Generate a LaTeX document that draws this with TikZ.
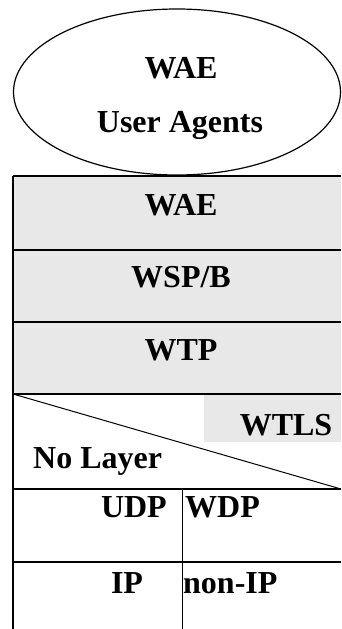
\documentclass[tikz,border=0pt]{standalone}
\usepackage{fontspec}
\setmainfont{Liberation Serif}
\definecolor{layerfill}{RGB}{232,232,232}
\begin{document}
\begin{tikzpicture}[x=1pt,y=-1pt,
  rule/.style={line width=1.3pt,black},
  thin rule/.style={line width=1pt,black},
  layer/.style={fill=layerfill,draw=none,inner sep=0pt,anchor=north west},
  lbl/.style={font=\fontsize{32}{32}\selectfont\bfseries,inner sep=0pt,anchor=base}]
\useasboundingbox (0,0) rectangle (341,629);
\fill[white] (0,0) rectangle (341,629);

% user agent bubble
\coordinate (ua) at (177,92);
\draw[line width=1.2pt] (ua) ellipse [x radius=163.5, y radius=83];
\node[lbl] (uaT) at (181,78) {WAE};
\node[lbl] (uaB) at (180,132) {User Agents};

% shaded protocol layers
\node[layer,minimum width=328pt,minimum height=74pt] (wae) at (13,176) {};
\node[layer,minimum width=328pt,minimum height=72pt] (wsp) at (13,250) {};
\node[layer,minimum width=328pt,minimum height=72pt] (wtp) at (13,322) {};
\node[layer,minimum width=137pt,minimum height=48pt] (wtls) at (204,394) {};

% empty security row and transport/bearer cells
\coordinate (sec nw) at (13,394);
\coordinate (sec se) at (341,489);
\coordinate (udp nw) at (13,489);
\coordinate (mid top) at (182,489);
\coordinate (mid bot) at (182,629);
\coordinate (ip nw) at (13,562);
\coordinate (ip ne) at (341,562);
\coordinate (bottom) at (13,629);

% rules
\draw[rule] (wae.north west) -- (wae.north east);
\draw[rule] (wsp.north west) -- (wsp.north east);
\draw[rule] (wtp.north west) -- (wtp.north east);
\draw[rule] (sec nw) -- (sec nw -| wae.east);
\draw[rule] (udp nw) -- (sec se);
\draw[rule] (ip nw) -- (ip ne);
\draw[rule] (wae.north west) -- (bottom);
\draw[thin rule] (mid top) -- (mid bot);
\draw[thin rule] (sec nw) -- (sec se);

% labels
\node[lbl] (lwae) at (181,215) {WAE};
\node[lbl] (lwsp) at (181,287) {WSP/B};
\node[lbl] (lwtp) at (181,360) {WTP};
\node[lbl] (lwtls) at (286,435) {WTLS};
\node[lbl,anchor=base west] (lno) at (33,468) {No Layer};
\node[lbl,anchor=base east] (ludp) at (167,517) {UDP};
\node[lbl,anchor=base west] (lwdp) at (185,517) {WDP};
\node[lbl] (lip) at (127,593) {IP};
\node[lbl,anchor=base west] (lnon) at (183,593) {non-IP};
\end{tikzpicture}
\end{document}
